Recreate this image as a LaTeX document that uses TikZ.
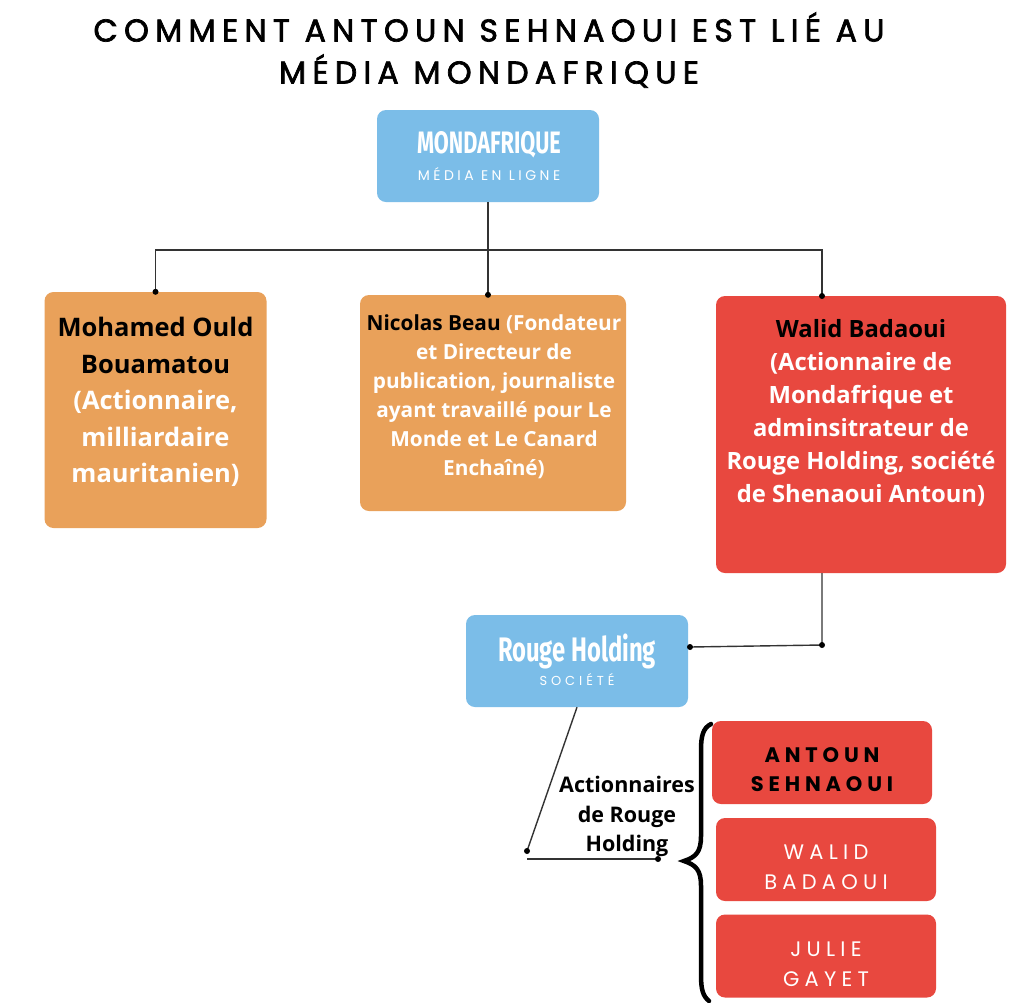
\documentclass[tikz,border=0pt]{standalone}
\usepackage{fontspec}
\setmainfont{Open Sans}
\newfontfamily\titlef[LetterSpace=20,FakeBold=2.2]{Poppins}
\newfontfamily\condf[FakeStretch=0.7]{Fira Sans}
\newfontfamily\subf[LetterSpace=25]{Poppins}
\newfontfamily\socf[LetterSpace=30]{Poppins}
\newfontfamily\namef[LetterSpace=23]{Poppins}
\newfontfamily\namewf[LetterSpace=25]{Poppins}
\definecolor{cblue}{RGB}{123,189,232}
\definecolor{corange}{RGB}{233,161,90}
\definecolor{cred}{RGB}{232,72,63}
\tikzset{
  box/.style={rectangle, rounded corners=9pt, inner sep=0pt, draw=none},
  conn/.style={draw=black!80, line width=1.4pt},
  dot/.style={circle, fill=black, inner sep=0pt, minimum size=6pt},
  bodytxt/.style={inner sep=0pt, align=center, text=white, font=\bfseries},
}
\begin{document}
\begin{tikzpicture}[x=1pt,y=-1pt]
\useasboundingbox[fill=white] (0,0) rectangle (1024,1002);

% title
\node[inner sep=0pt, align=center, font=\titlef\fontsize{31.5}{42}\selectfont] (title) at (489,50)
  {COMMENT ANTOUN SEHNAOUI EST LIÉ AU\\MÉDIA MONDAFRIQUE};

% Mondafrique
\node[box, fill=cblue, minimum width=222pt, minimum height=92pt] (mond) at (488,156) {};
\node[inner sep=0pt, text=white, font=\condf\bfseries\fontsize{31}{31}\selectfont] (mondt) at (489,145) {MONDAFRIQUE};
\node[inner sep=0pt, text=white, font=\subf\fontsize{14}{14}\selectfont] (monds) at (489,174) {MÉDIA EN LIGNE};

% three boxes
\node[box, fill=corange, minimum width=222pt, minimum height=236pt] (moh) at (155.5,410) {};
\node[bodytxt, anchor=north, font=\bfseries\fontsize{25.5}{36.5}\selectfont] (moht) at (155.5,317)
  {\textcolor{black}{Mohamed Ould}\\\textcolor{black}{Bouamatou}\\(Actionnaire,\\milliardaire\\mauritanien)};

\node[box, fill=corange, minimum width=266pt, minimum height=216pt] (nic) at (493,403) {};
\node[bodytxt, anchor=north, font=\bfseries\fontsize{20.8}{29}\selectfont] (nict) at (494,314)
  {\textcolor{black}{Nicolas Beau} (Fondateur\\et Directeur de\\publication, journaliste\\ayant travaillé pour Le\\Monde et Le Canard\\Enchaîné)};

\node[box, fill=cred, minimum width=290pt, minimum height=277pt] (wal) at (861,434.5) {};
\node[bodytxt, anchor=north, font=\bfseries\fontsize{23.8}{33}\selectfont] (walt) at (861,319)
  {\textcolor{black}{Walid Badaoui}\\(Actionnaire de\\Mondafrique et\\adminsitrateur de\\Rouge Holding, société\\de Shenaoui Antoun)};

% Rouge Holding
\node[box, fill=cblue, minimum width=222pt, minimum height=92pt] (rouge) at (577,661) {};
\node[inner sep=0pt, text=white, font=\condf\bfseries\fontsize{34}{34}\selectfont] (rouget) at (577,651) {Rouge Holding};
\node[inner sep=0pt, text=white, font=\socf\fontsize{13}{13}\selectfont] (rouges) at (577,680) {SOCIÉTÉ};

% shareholders
\node[box, fill=cred, minimum width=220pt, minimum height=83pt] (ant) at (822,762.5) {};
\node[inner sep=0pt, align=center, font=\namef\bfseries\fontsize{21}{29}\selectfont] (antt) at (822,770) {ANTOUN\\SEHNAOUI};
\node[box, fill=cred, minimum width=220pt, minimum height=83pt] (wb) at (826,859.5) {};
\node[inner sep=0pt, align=center, text=white, font=\namewf\fontsize{21}{30}\selectfont] (wbt) at (826,867) {WALID\\BADAOUI};
\node[box, fill=cred, minimum width=220pt, minimum height=83pt] (jg) at (826,956) {};
\node[inner sep=0pt, align=center, text=white, font=\namewf\fontsize{21}{30}\selectfont] (jgt) at (826,964) {JULIE\\GAYET};

\node[inner sep=0pt, align=center, anchor=north, font=\bfseries\fontsize{21.5}{29.5}\selectfont] (act) at (627,776)
  {Actionnaires\\de Rouge\\Holding};

% connectors
\coordinate (bar) at (488,250);
\coordinate (wtop) at (822,296);
\coordinate (wbot) at (822,573);
\coordinate (wcorner) at (822,645);
\coordinate (rin) at (690,647);
\coordinate (p1) at (527,851);
\coordinate (p2) at (527,859);
\coordinate (p3) at (658,859);

\draw[conn] (mond.south) -- (bar);
\draw[conn] (moh.north) |- (bar) -| (wtop);
\draw[conn] (bar) -- (mond.south |- nic.north);
\node[dot] at (moh.north) {};
\node[dot] at (mond.south |- nic.north) {};
\node[dot] at (wtop) {};

\draw[conn] (wbot) -- (wcorner) -- (rin) -- (rin -| rouge.east);
\node[dot] at (wcorner) {};
\node[dot] at (rin) {};

\draw[conn] (rouge.south) -- (p1);
\node[dot] at (p1) {};
\draw[conn] (p2) -- (p3);
\node[dot] at (p3) {};

% brace
\draw[line width=4.5pt, line cap=round] (711,724) .. controls (703,728) and (701,736) .. (701,750)
  -- (701,836) .. controls (701,852) and (696,857) .. (684,861)
  .. controls (696,865) and (701,870) .. (701,886)
  -- (701,975) .. controls (701,990) and (703,996) .. (709,1001);
\end{tikzpicture}
\end{document}
